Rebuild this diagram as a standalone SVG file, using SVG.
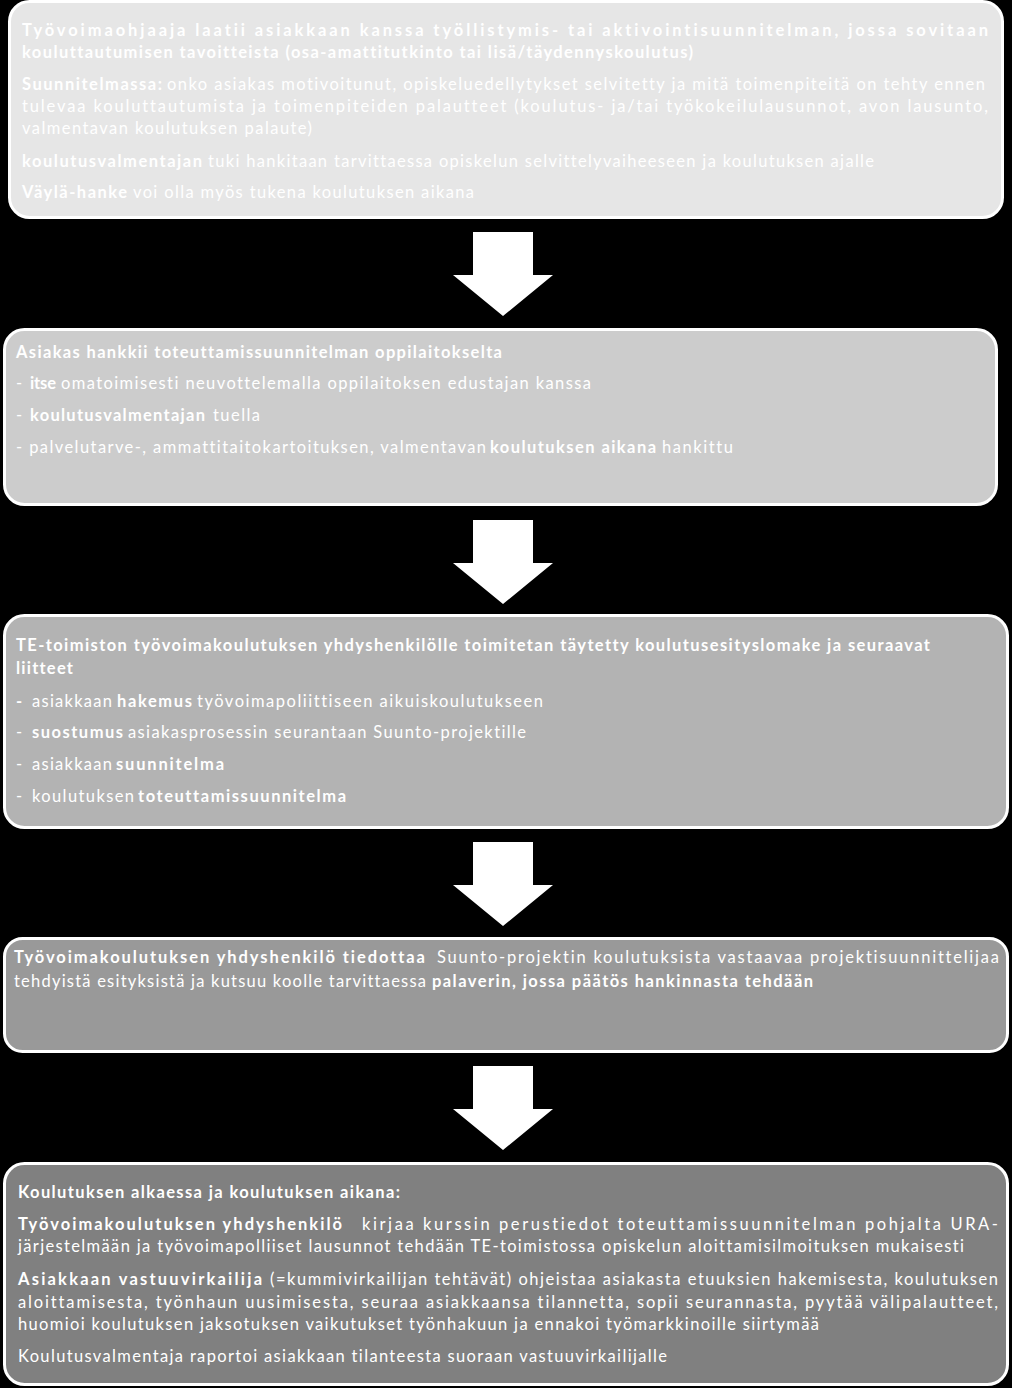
<svg xmlns="http://www.w3.org/2000/svg" width="1012" height="1388" viewBox="0 0 1012 1388">
<style>
.bg{fill:#000}
.box{stroke:#fff;stroke-width:3}
text{font-family:Lato,"Liberation Sans",sans-serif;font-size:16.5px;fill:#fff;font-variant-ligatures:none;font-feature-settings:"liga" 0,"clig" 0}
.b{font-weight:bold}
.arrow{fill:#fff}
</style>
<defs>
<path id="arr" d="M-30,0 H30 V43 H50 L0,84 L-50,43 H-30 Z"/>
</defs>
<rect class="bg" x="0" y="0" width="1012" height="1388"/>

<g id="node1">
<rect class="box" x="9.5" y="1.5" width="993" height="216" rx="20" fill="#e6e6e6"/>
<text class="b" x="22" y="36" textLength="966" lengthAdjust="spacing">Työvoimaohjaaja laatii asiakkaan kanssa työllistymis- tai aktivointisuunnitelman, jossa sovitaan</text>
<text class="b" x="22" y="58" textLength="671" lengthAdjust="spacing">kouluttautumisen tavoitteista (osa-amattitutkinto tai lisä/täydennyskoulutus)</text>
<text y="90"><tspan class="b" x="22" textLength="140" lengthAdjust="spacing">Suunnitelmassa:</tspan><tspan x="167" textLength="818" lengthAdjust="spacing">onko asiakas motivoitunut, opiskeluedellytykset selvitetty ja mitä toimenpiteitä on tehty ennen</tspan></text>
<text x="22" y="112" textLength="966" lengthAdjust="spacing">tulevaa kouluttautumista ja toimenpiteiden palautteet (koulutus- ja/tai työkokeilulausunnot, avon lausunto,</text>
<text x="22" y="134" textLength="290" lengthAdjust="spacing">valmentavan koulutuksen palaute)</text>
<text y="167"><tspan class="b" x="22" textLength="180" lengthAdjust="spacing">koulutusvalmentajan</tspan><tspan x="208" textLength="666" lengthAdjust="spacing">tuki hankitaan tarvittaessa opiskelun selvittelyvaiheeseen ja koulutuksen ajalle</tspan></text>
<text y="198"><tspan class="b" x="22" textLength="105" lengthAdjust="spacing">Väylä-hanke</tspan><tspan x="133" textLength="341" lengthAdjust="spacing">voi olla myös tukena koulutuksen aikana</tspan></text>
</g>

<g id="node2">
<rect class="box" x="4.5" y="329.5" width="992" height="175" rx="20" fill="#cccccc"/>
<text class="b" x="16" y="358" textLength="486" lengthAdjust="spacing">Asiakas hankkii toteuttamissuunnitelman  oppilaitokselta</text>
<text y="389"><tspan x="16">-</tspan><tspan class="b" x="30" textLength="26" lengthAdjust="spacing">itse</tspan><tspan x="61" textLength="530" lengthAdjust="spacing">omatoimisesti neuvottelemalla oppilaitoksen edustajan kanssa</tspan></text>
<text y="421"><tspan x="16">-</tspan><tspan class="b" x="30" textLength="175" lengthAdjust="spacing">koulutusvalmentajan</tspan><tspan x="213" textLength="47" lengthAdjust="spacing">tuella</tspan></text>
<text y="453"><tspan x="16" textLength="470" lengthAdjust="spacing">- palvelutarve-, ammattitaitokartoituksen, valmentavan</tspan><tspan class="b" x="490" textLength="166" lengthAdjust="spacing">koulutuksen aikana</tspan><tspan x="662" textLength="71" lengthAdjust="spacing">hankittu</tspan></text>
</g>

<g id="node3">
<rect class="box" x="4.5" y="615.5" width="1003" height="212" rx="20" fill="#b3b3b3"/>
<text class="b" x="16" y="651" textLength="914" lengthAdjust="spacing">TE-toimiston työvoimakoulutuksen yhdyshenkilölle toimitetan täytetty koulutusesityslomake  ja seuraavat</text>
<text class="b" x="16" y="674" textLength="57" lengthAdjust="spacing">liitteet</text>
<text y="707"><tspan class="b" x="16">-</tspan><tspan x="32" textLength="80" lengthAdjust="spacing">asiakkaan</tspan><tspan class="b" x="117" textLength="75" lengthAdjust="spacing">hakemus</tspan><tspan x="197" textLength="346" lengthAdjust="spacing">työvoimapoliittiseen aikuiskoulutukseen</tspan></text>
<text y="738"><tspan x="16">-</tspan><tspan class="b" x="32" textLength="91" lengthAdjust="spacing">suostumus</tspan><tspan x="128" textLength="398" lengthAdjust="spacing">asiakasprosessin seurantaan Suunto-projektille</tspan></text>
<text y="770"><tspan x="16">-</tspan><tspan x="32" textLength="80" lengthAdjust="spacing">asiakkaan</tspan><tspan class="b" x="116" textLength="108" lengthAdjust="spacing">suunnitelma</tspan></text>
<text y="802"><tspan x="16">-</tspan><tspan x="32" textLength="102" lengthAdjust="spacing">koulutuksen</tspan><tspan class="b" x="138" textLength="208" lengthAdjust="spacing">toteuttamissuunnitelma</tspan></text>
</g>

<g id="node4">
<rect class="box" x="4.5" y="938.5" width="1003" height="113" rx="18" fill="#999999"/>
<text y="963"><tspan class="b" x="14" textLength="411" lengthAdjust="spacing">Työvoimakoulutuksen  yhdyshenkilö  tiedottaa</tspan><tspan x="437" textLength="562" lengthAdjust="spacing">Suunto-projektin koulutuksista vastaavaa projektisuunnittelijaa</tspan></text>
<text y="987"><tspan x="14" textLength="412" lengthAdjust="spacing">tehdyistä esityksistä ja kutsuu koolle tarvittaessa</tspan><tspan class="b" x="432" textLength="381" lengthAdjust="spacing">palaverin, jossa päätös hankinnasta tehdään</tspan></text>
</g>

<g id="node5">
<rect class="box" x="4.5" y="1163.5" width="1003" height="221" rx="20" fill="#808080"/>
<text class="b" x="18" y="1198" textLength="382" lengthAdjust="spacing">Koulutuksen alkaessa ja koulutuksen aikana:</text>
<text y="1230"><tspan class="b" x="18" textLength="324" lengthAdjust="spacing">Työvoimakoulutuksen  yhdyshenkilö</tspan><tspan x="362" textLength="636" lengthAdjust="spacing">kirjaa kurssin perustiedot toteuttamissuunnitelman pohjalta URA-</tspan></text>
<text x="18" y="1252" textLength="946" lengthAdjust="spacing">järjestelmään ja työvoimapolliiset lausunnot tehdään TE-toimistossa opiskelun aloittamisilmoituksen mukaisesti</text>
<text y="1285"><tspan class="b" x="18" textLength="244" lengthAdjust="spacing">Asiakkaan vastuuvirkailija</tspan><tspan x="270" textLength="728" lengthAdjust="spacing">(=kummivirkailijan tehtävät) ohjeistaa asiakasta etuuksien hakemisesta, koulutuksen</tspan></text>
<text x="18" y="1308" textLength="980" lengthAdjust="spacing">aloittamisesta, työnhaun uusimisesta, seuraa asiakkaansa tilannetta, sopii seurannasta, pyytää välipalautteet,</text>
<text x="18" y="1330" textLength="801" lengthAdjust="spacing">huomioi koulutuksen jaksotuksen vaikutukset työnhakuun ja ennakoi työmarkkinoille siirtymää</text>
<text x="18" y="1362" textLength="649" lengthAdjust="spacing">Koulutusvalmentaja raportoi asiakkaan tilanteesta suoraan vastuuvirkailijalle</text>
</g>

<g id="connectors">
<use class="arrow" href="#arr" x="503" y="232"/>
<use class="arrow" href="#arr" x="503" y="520"/>
<use class="arrow" href="#arr" x="503" y="842"/>
<use class="arrow" href="#arr" x="503" y="1066"/>
</g>
</svg>
